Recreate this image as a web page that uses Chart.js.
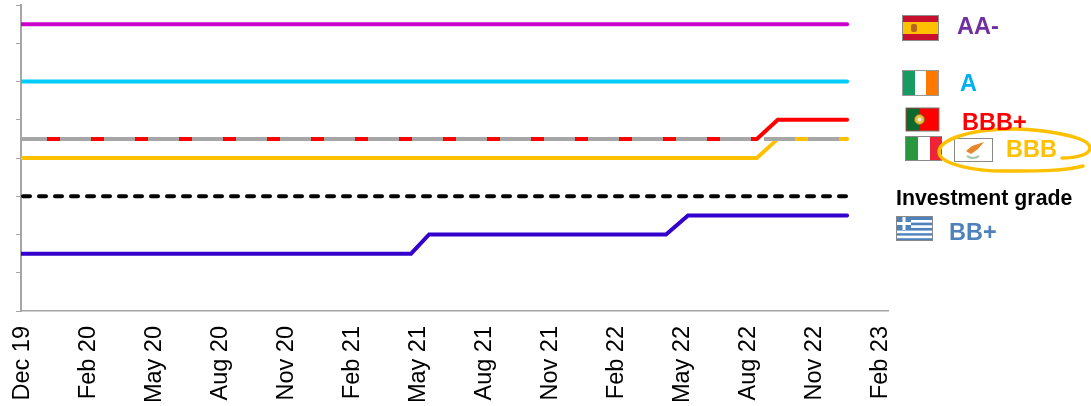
<!DOCTYPE html>
<html>
<head>
<meta charset="utf-8">
<script src="https://cdn.jsdelivr.net/npm/chart.js@4"></script>
<style>
    html, body { margin: 0; padding: 0; background: #fff; overflow: hidden; }
    #wrap { position: relative; width: 1091px; height: 406px; font-family: "Liberation Sans", Arial, sans-serif; }
    #chart { position: absolute; left: 0; top: 0; }
    #flags { position: absolute; left: 0; top: 0; }
    .lbl { position: absolute; font-weight: bold; font-size: 23.5px; line-height: 26px; white-space: nowrap; }
</style>
</head>
<body>
<div id="wrap">
    <canvas id="chart" width="1091" height="406"></canvas>
    <svg id="flags" width="1091" height="406" viewBox="0 0 1091 406">
        <!-- Spain -->
        <rect x="902.5" y="15.5" width="36" height="25" fill="#C8102E" stroke="#8c8c8c"/>
        <rect x="903" y="22" width="35" height="12" fill="#FFC000"/>
        <rect x="911" y="24" width="6" height="8" rx="2" fill="#B5651D"/>
        <!-- Ireland -->
        <rect x="902.5" y="70.5" width="36" height="25" fill="#fff" stroke="#999"/>
        <rect x="903" y="71" width="12" height="24" fill="#169B62"/>
        <rect x="926" y="71" width="12" height="24" fill="#FF7900"/>
        <!-- Portugal -->
        <rect x="906" y="108" width="33" height="23" fill="#FF0000" stroke="#777"/>
        <rect x="906.5" y="108.5" width="13" height="22" fill="#0B6B2E"/>
        <circle cx="919.5" cy="119.5" r="5" fill="#E8C33A" stroke="#8a6d1c"/>
        <circle cx="919.5" cy="119.5" r="2" fill="#eee"/>
        <!-- Italy -->
        <rect x="905.5" y="136.5" width="36" height="24" fill="#fff" stroke="#888"/>
        <rect x="906" y="137" width="12" height="23" fill="#2A9640"/>
        <rect x="930" y="137" width="12" height="23" fill="#EE2436"/>
        <!-- Cyprus -->
        <rect x="954.5" y="138.5" width="38" height="23" fill="#fff" stroke="#888"/>
        <path d="M966 151 L972 146 L984 142 L978 149 L971 154 Z" fill="#E8872A"/>
        <path d="M967 156 Q973 160 979 156" fill="none" stroke="#9CC3A5" stroke-width="2"/>
        <!-- Greece -->
        <rect x="896.5" y="216.5" width="36" height="24" fill="#4F81BD" stroke="#888"/>
        <rect x="897" y="220" width="35" height="2.6" fill="#fff"/>
        <rect x="897" y="225.3" width="35" height="2.6" fill="#fff"/>
        <rect x="897" y="230.6" width="35" height="2.6" fill="#fff"/>
        <rect x="897" y="235.6" width="35" height="2.6" fill="#fff"/>
        <rect x="897" y="217" width="14" height="13" fill="#4F81BD"/>
        <rect x="902.5" y="217" width="3" height="13" fill="#fff"/>
        <rect x="897" y="222" width="14" height="3" fill="#fff"/>
        <!-- ring round the BBB label -->
        <path d="M1062 158 C1075 158 1090 155 1090 148 C1090 136 1040 129 1010 129 C970 129 939 140 939 152 C939 164 975 172 1010 171 C1040 171 1065 171 1083 166"
              fill="none" stroke="#FFC000" stroke-width="3.5" stroke-linecap="round"/>
    </svg>
    <span class="lbl" style="left:957px;top:13px;color:#7030A0">AA-</span>
    <span class="lbl" style="left:960px;top:70px;color:#00B0F0">A</span>
    <span class="lbl" style="left:962px;top:109px;color:#FF0000">BBB+</span>
    <span class="lbl" style="left:1006px;top:136px;color:#FFC000">BBB</span>
    <span class="lbl" style="left:896px;top:185px;color:#000;font-size:21.3px">Investment grade</span>
    <span class="lbl" style="left:949px;top:219px;color:#4F81BD">BB+</span>
</div>
<script>
// x = months after Dec 19, y = rating notches above the axis floor
const tickLabels = ['Dec 19', 'Feb 20', 'May 20', 'Aug 20', 'Nov 20', 'Feb 21', 'May 21', 'Aug 21', 'Nov 21', 'Feb 22', 'May 22', 'Aug 22', 'Nov 22', 'Feb 23'];
const tickValues = [0, 3, 6, 9, 12, 15, 18, 21, 24, 27, 30, 33, 36, 39];
const yTicks = [0, 1, 2, 3, 4, 5, 6, 7, 8];

const spainX = [0, 37.55];
const spainY = [7.5, 7.5];
const irelandX = [0, 37.55];
const irelandY = [6, 6];
const portugalX = [0, 33.45, 34.4, 37.55];
const portugalY = [4.5, 4.5, 5, 5];
const cyprusX = [0, 33.45, 34.4, 37.55];
const cyprusY = [4, 4, 4.5, 4.5];
const italyX = [0, 37.55];
const italyY = [4.5, 4.5];
const investmentX = [0, 37.55];
const investmentY = [3, 3];
const greeceX = [0, 17.73, 18.55, 29.32, 30.32, 37.55];
const greeceY = [1.5, 1.5, 2, 2, 2.5, 2.5];

const toPoints = (xs, ys) => xs.map((x, i) => ({ x, y: ys[i] }));

const line = (label, xs, ys, color, extra) => Object.assign({
    label,
    data: toPoints(xs, ys),
    borderColor: color,
    borderWidth: 4,
    pointRadius: 0,
    tension: 0,
    fill: false,
    borderCapStyle: 'round',
    borderJoinStyle: 'miter'
}, extra);

new Chart(document.getElementById('chart'), {
    type: 'line',
    data: {
        datasets: [
            line('Spain', spainX, spainY, '#CC00CC'),
            line('Ireland', irelandX, irelandY, '#00CCFF'),
            line('Cyprus', cyprusX, cyprusY, '#FFC000'),
            line('Portugal', portugalX, portugalY, '#FF0000'),
            line('Italy', italyX, italyY, '#A6A6A6', { borderDash: [31, 13], borderDashOffset: 5, borderCapStyle: 'butt' }),
            line('Investment grade', investmentX, investmentY, '#000000', { borderDash: [7, 9], borderDashOffset: -2 }),
            line('Greece', greeceX, greeceY, '#3300CC')
        ].map((d, i) => Object.assign(d, { order: 10 - i }))
    },
    options: {
        responsive: false,
        animation: false,
        layout: { padding: { top: 5, right: 203, left: 0, bottom: 0 } },
        plugins: { legend: { display: false }, tooltip: { enabled: false } },
        scales: {
            x: {
                type: 'linear',
                min: 0,
                max: 39.41,
                afterBuildTicks: scale => { scale.ticks = tickValues.map(value => ({ value })); },
                afterFit: scale => { scale.height = 95; },
                border: { color: '#A6A6A6', width: 1.5 },
                grid: { display: false, drawTicks: false },
                ticks: {
                    autoSkip: false,
                    minRotation: 90,
                    maxRotation: 90,
                    padding: 15,
                    labelOffset: 1.5,
                    color: '#000',
                    font: { family: '"Liberation Sans", Arial, sans-serif', size: 23.5 },
                    callback: value => tickLabels[tickValues.indexOf(value)] || ''
                }
            },
            y: {
                type: 'linear',
                min: 0,
                max: 8,
                afterBuildTicks: scale => { scale.ticks = yTicks.map(value => ({ value })); },
                afterFit: scale => { scale.width = 21; },
                border: { color: '#A6A6A6', width: 2 },
                grid: { drawOnChartArea: false, drawTicks: true, tickLength: 5, tickColor: '#A6A6A6', tickWidth: 1 },
                ticks: { display: false }
            }
        }
    }
});
</script>
</body>
</html>
